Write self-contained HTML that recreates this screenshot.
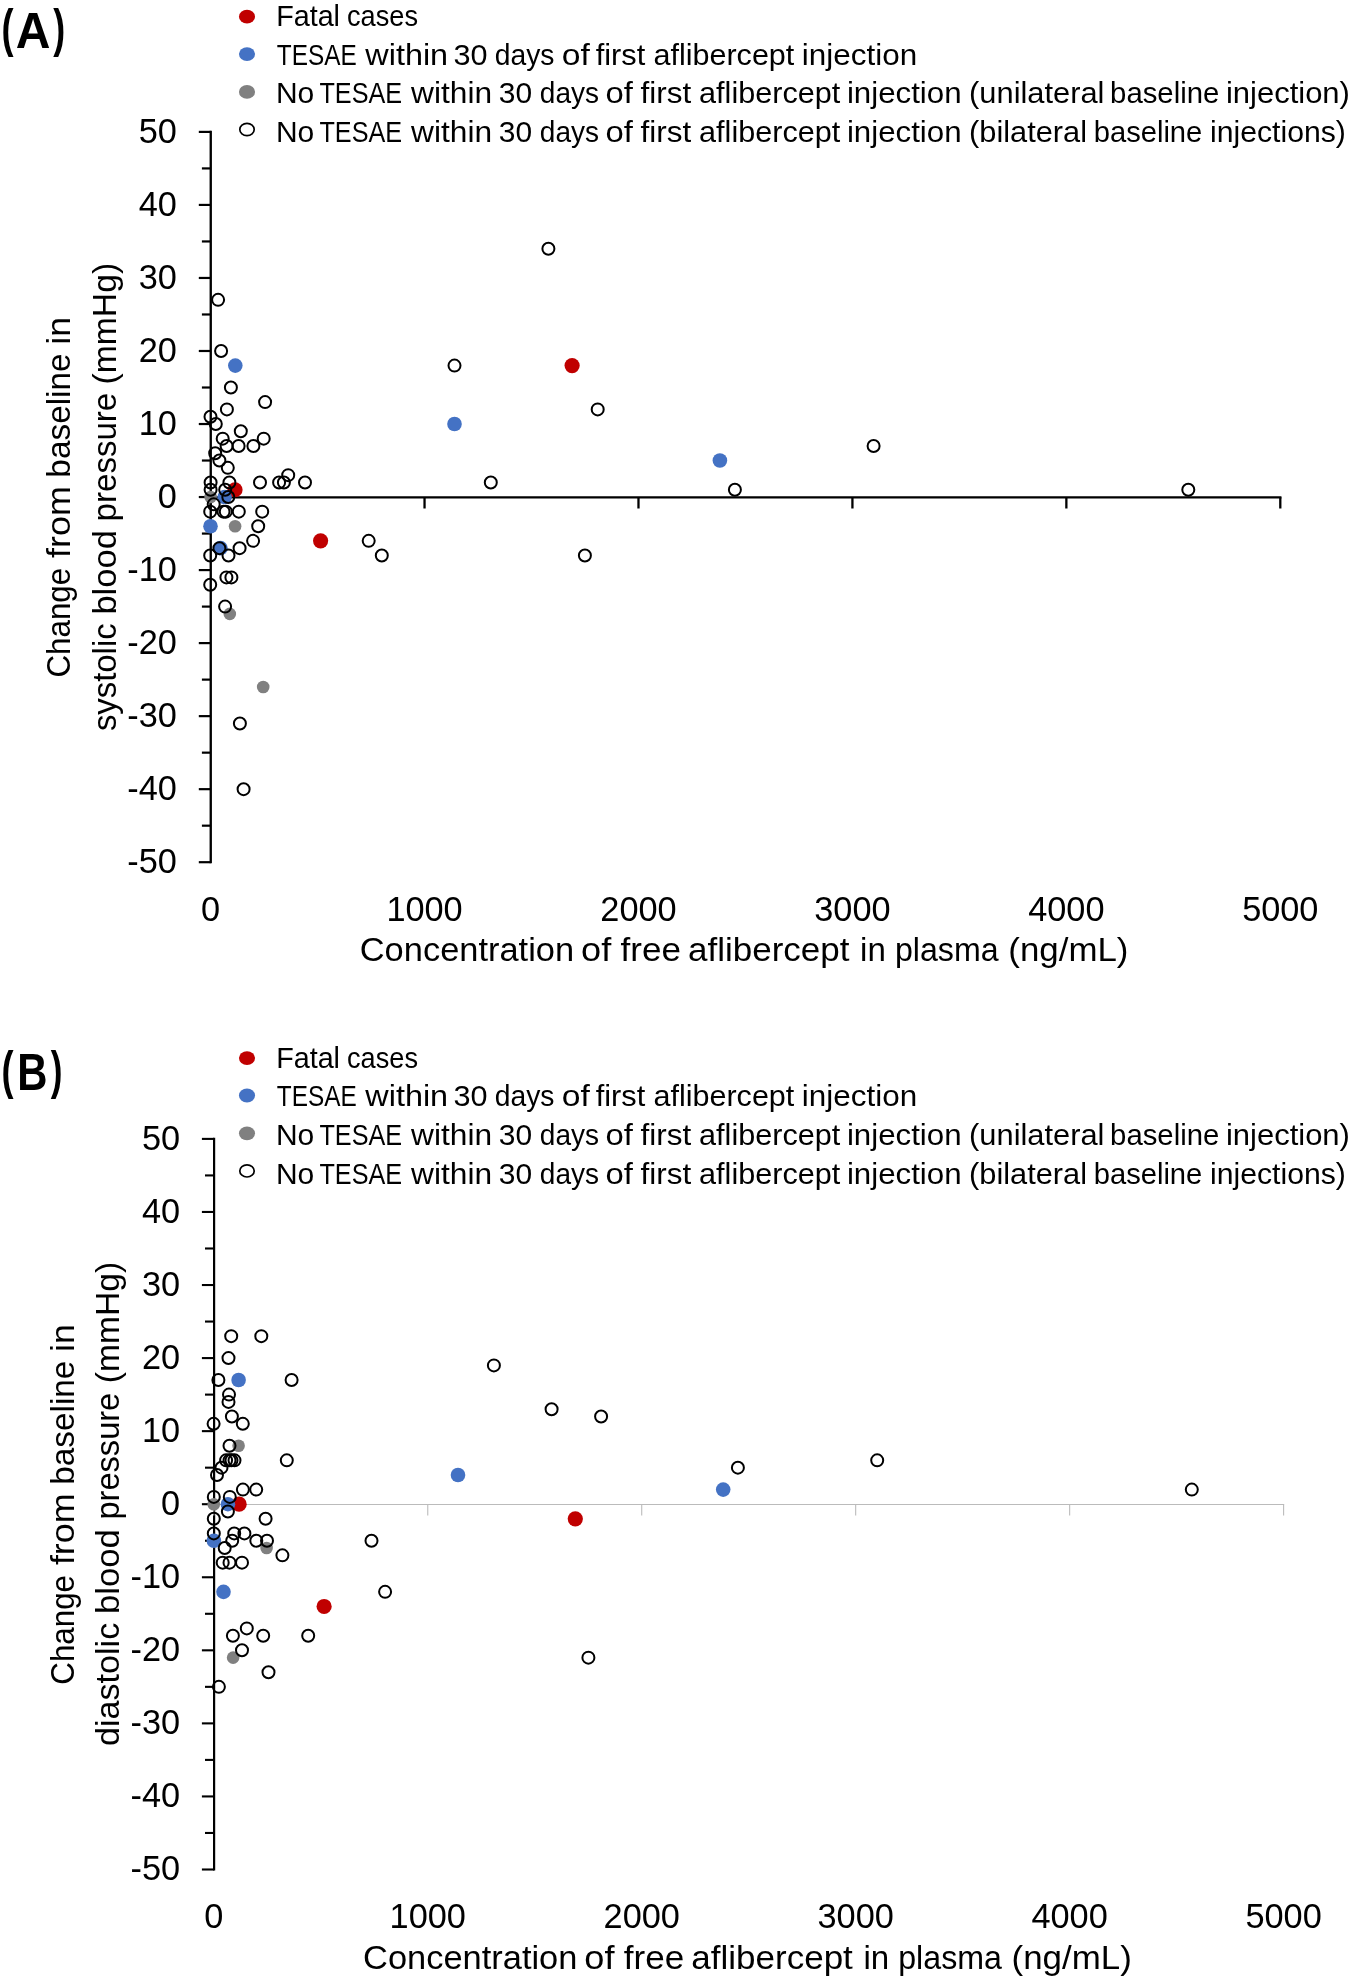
<!DOCTYPE html>
<html><head><meta charset="utf-8"><title>Figure</title>
<style>
html,body{margin:0;padding:0;background:#fff;}
svg{display:block;will-change:transform;}
text{font-family:"Liberation Sans", sans-serif;fill:#000;font-kerning:none;font-variant-ligatures:none;}
</style></head><body>
<svg width="1350" height="1983" viewBox="0 0 1350 1983">
<rect width="1350" height="1983" fill="#fff"/>
<line x1="210.75" y1="130.8" x2="210.75" y2="863.3" stroke="#000" stroke-width="2.35"/>
<line x1="198.8" y1="862.2" x2="210.75" y2="862.2" stroke="#000" stroke-width="2.2"/>
<line x1="201.9" y1="825.68" x2="210.75" y2="825.68" stroke="#000" stroke-width="2.2"/>
<line x1="198.8" y1="789.17" x2="210.75" y2="789.17" stroke="#000" stroke-width="2.2"/>
<line x1="201.9" y1="752.66" x2="210.75" y2="752.66" stroke="#000" stroke-width="2.2"/>
<line x1="198.8" y1="716.14" x2="210.75" y2="716.14" stroke="#000" stroke-width="2.2"/>
<line x1="201.9" y1="679.62" x2="210.75" y2="679.62" stroke="#000" stroke-width="2.2"/>
<line x1="198.8" y1="643.11" x2="210.75" y2="643.11" stroke="#000" stroke-width="2.2"/>
<line x1="201.9" y1="606.6" x2="210.75" y2="606.6" stroke="#000" stroke-width="2.2"/>
<line x1="198.8" y1="570.08" x2="210.75" y2="570.08" stroke="#000" stroke-width="2.2"/>
<line x1="201.9" y1="533.57" x2="210.75" y2="533.57" stroke="#000" stroke-width="2.2"/>
<line x1="198.8" y1="497.05" x2="210.75" y2="497.05" stroke="#000" stroke-width="2.2"/>
<line x1="201.9" y1="460.53" x2="210.75" y2="460.53" stroke="#000" stroke-width="2.2"/>
<line x1="198.8" y1="424.02" x2="210.75" y2="424.02" stroke="#000" stroke-width="2.2"/>
<line x1="201.9" y1="387.51" x2="210.75" y2="387.51" stroke="#000" stroke-width="2.2"/>
<line x1="198.8" y1="350.99" x2="210.75" y2="350.99" stroke="#000" stroke-width="2.2"/>
<line x1="201.9" y1="314.48" x2="210.75" y2="314.48" stroke="#000" stroke-width="2.2"/>
<line x1="198.8" y1="277.96" x2="210.75" y2="277.96" stroke="#000" stroke-width="2.2"/>
<line x1="201.9" y1="241.45" x2="210.75" y2="241.45" stroke="#000" stroke-width="2.2"/>
<line x1="198.8" y1="204.93" x2="210.75" y2="204.93" stroke="#000" stroke-width="2.2"/>
<line x1="201.9" y1="168.42" x2="210.75" y2="168.42" stroke="#000" stroke-width="2.2"/>
<line x1="198.8" y1="131.9" x2="210.75" y2="131.9" stroke="#000" stroke-width="2.2"/>
<text x="176.9" y="872.8" text-anchor="end" font-size="34.3">-50</text>
<text x="176.9" y="799.77" text-anchor="end" font-size="34.3">-40</text>
<text x="176.9" y="726.74" text-anchor="end" font-size="34.3">-30</text>
<text x="176.9" y="653.71" text-anchor="end" font-size="34.3">-20</text>
<text x="176.9" y="580.68" text-anchor="end" font-size="34.3">-10</text>
<text x="176.9" y="507.65" text-anchor="end" font-size="34.3">0</text>
<text x="176.9" y="434.62" text-anchor="end" font-size="34.3">10</text>
<text x="176.9" y="361.59" text-anchor="end" font-size="34.3">20</text>
<text x="176.9" y="288.56" text-anchor="end" font-size="34.3">30</text>
<text x="176.9" y="215.53" text-anchor="end" font-size="34.3">40</text>
<text x="176.9" y="142.5" text-anchor="end" font-size="34.3">50</text>
<line x1="209.6" y1="497.3" x2="1281.45" y2="497.3" stroke="#000" stroke-width="2.3"/>
<line x1="210.6" y1="497.3" x2="210.6" y2="508.5" stroke="#000" stroke-width="2.3"/>
<text x="210.6" y="920.8" text-anchor="middle" font-size="34.3">0</text>
<line x1="424.54" y1="497.3" x2="424.54" y2="508.5" stroke="#000" stroke-width="2.3"/>
<text x="424.54" y="920.8" text-anchor="middle" font-size="34.3">1000</text>
<line x1="638.48" y1="497.3" x2="638.48" y2="508.5" stroke="#000" stroke-width="2.3"/>
<text x="638.48" y="920.8" text-anchor="middle" font-size="34.3">2000</text>
<line x1="852.42" y1="497.3" x2="852.42" y2="508.5" stroke="#000" stroke-width="2.3"/>
<text x="852.42" y="920.8" text-anchor="middle" font-size="34.3">3000</text>
<line x1="1066.36" y1="497.3" x2="1066.36" y2="508.5" stroke="#000" stroke-width="2.3"/>
<text x="1066.36" y="920.8" text-anchor="middle" font-size="34.3">4000</text>
<line x1="1280.3" y1="497.3" x2="1280.3" y2="508.5" stroke="#000" stroke-width="2.3"/>
<text x="1280.3" y="920.8" text-anchor="middle" font-size="34.3">5000</text>
<text x="359.75" y="961.20" font-size="33.5" textLength="214.38" lengthAdjust="spacingAndGlyphs">Concentration</text>
<text x="581.08" y="961.20" font-size="33.5" textLength="30.17" lengthAdjust="spacingAndGlyphs">of</text>
<text x="620.50" y="961.20" font-size="33.5" textLength="60.46" lengthAdjust="spacingAndGlyphs">free</text>
<text x="688.01" y="961.20" font-size="33.5" textLength="161.54" lengthAdjust="spacingAndGlyphs">aflibercept</text>
<text x="860.09" y="961.20" font-size="33.5" textLength="25.76" lengthAdjust="spacingAndGlyphs">in</text>
<text x="894.93" y="961.20" font-size="33.5" textLength="103.67" lengthAdjust="spacingAndGlyphs">plasma</text>
<text x="1008.34" y="961.20" font-size="33.5" textLength="120.12" lengthAdjust="spacingAndGlyphs">(ng/mL)</text>
<text transform="translate(70.20,0) rotate(-90)" x="-677.49" y="0" font-size="33.5" textLength="109.68" lengthAdjust="spacingAndGlyphs">Change</text>
<text transform="translate(70.20,0) rotate(-90)" x="-557.91" y="0" font-size="33.5" textLength="71.77" lengthAdjust="spacingAndGlyphs">from</text>
<text transform="translate(70.20,0) rotate(-90)" x="-477.65" y="0" font-size="33.5" textLength="124.23" lengthAdjust="spacingAndGlyphs">baseline</text>
<text transform="translate(70.20,0) rotate(-90)" x="-344.79" y="0" font-size="33.5" textLength="27.81" lengthAdjust="spacingAndGlyphs">in</text>
<text transform="translate(115.50,0) rotate(-90)" x="-731.12" y="0" font-size="33.5" textLength="107.78" lengthAdjust="spacingAndGlyphs">systolic</text>
<text transform="translate(115.50,0) rotate(-90)" x="-614.62" y="0" font-size="33.5" textLength="84.45" lengthAdjust="spacingAndGlyphs">blood</text>
<text transform="translate(115.50,0) rotate(-90)" x="-521.43" y="0" font-size="33.5" textLength="128.70" lengthAdjust="spacingAndGlyphs">pressure</text>
<text transform="translate(115.50,0) rotate(-90)" x="-384.49" y="0" font-size="33.5" textLength="121.58" lengthAdjust="spacingAndGlyphs">(mmHg)</text>
<ellipse cx="247" cy="16.7" rx="8.05" ry="6.9" fill="#C00000"/>
<text x="276.14" y="26.30" font-size="29.8" textLength="63.88" lengthAdjust="spacingAndGlyphs">Fatal</text>
<text x="347.05" y="26.30" font-size="29.8" textLength="70.93" lengthAdjust="spacingAndGlyphs">cases</text>
<ellipse cx="247" cy="54.1" rx="8.05" ry="6.9" fill="#4472C4"/>
<text x="276.75" y="64.90" font-size="29.8" textLength="79.89" lengthAdjust="spacingAndGlyphs">TESAE</text>
<text x="365.35" y="64.90" font-size="29.8" textLength="82.75" lengthAdjust="spacingAndGlyphs">within</text>
<text x="453.43" y="64.90" font-size="29.8" textLength="34.06" lengthAdjust="spacingAndGlyphs">30</text>
<text x="494.81" y="64.90" font-size="29.8" textLength="59.71" lengthAdjust="spacingAndGlyphs">days</text>
<text x="561.89" y="64.90" font-size="29.8" textLength="28.06" lengthAdjust="spacingAndGlyphs">of</text>
<text x="595.66" y="64.90" font-size="29.8" textLength="49.56" lengthAdjust="spacingAndGlyphs">first</text>
<text x="653.50" y="64.90" font-size="29.8" textLength="140.82" lengthAdjust="spacingAndGlyphs">aflibercept</text>
<text x="801.80" y="64.90" font-size="29.8" textLength="115.34" lengthAdjust="spacingAndGlyphs">injection</text>
<ellipse cx="247" cy="91.9" rx="8.05" ry="6.9" fill="#808080"/>
<text x="275.94" y="103.40" font-size="29.8" textLength="38.32" lengthAdjust="spacingAndGlyphs">No</text>
<text x="319.43" y="103.40" font-size="29.8" textLength="82.65" lengthAdjust="spacingAndGlyphs">TESAE</text>
<text x="411.05" y="103.40" font-size="29.8" textLength="81.01" lengthAdjust="spacingAndGlyphs">within</text>
<text x="498.86" y="103.40" font-size="29.8" textLength="33.31" lengthAdjust="spacingAndGlyphs">30</text>
<text x="539.82" y="103.40" font-size="29.8" textLength="59.19" lengthAdjust="spacingAndGlyphs">days</text>
<text x="605.62" y="103.40" font-size="29.8" textLength="27.33" lengthAdjust="spacingAndGlyphs">of</text>
<text x="640.55" y="103.40" font-size="29.8" textLength="50.68" lengthAdjust="spacingAndGlyphs">first</text>
<text x="699.10" y="103.40" font-size="29.8" textLength="141.12" lengthAdjust="spacingAndGlyphs">aflibercept</text>
<text x="846.91" y="103.40" font-size="29.8" textLength="114.62" lengthAdjust="spacingAndGlyphs">injection</text>
<text x="969.09" y="103.40" font-size="29.8" textLength="135.37" lengthAdjust="spacingAndGlyphs">(unilateral</text>
<text x="1110.11" y="103.40" font-size="29.8" textLength="109.19" lengthAdjust="spacingAndGlyphs">baseline</text>
<text x="1225.93" y="103.40" font-size="29.8" textLength="123.99" lengthAdjust="spacingAndGlyphs">injection)</text>
<ellipse cx="247" cy="129.5" rx="7.2" ry="6.1" fill="none" stroke="#000" stroke-width="1.7"/>
<text x="275.94" y="142.40" font-size="29.8" textLength="38.32" lengthAdjust="spacingAndGlyphs">No</text>
<text x="319.43" y="142.40" font-size="29.8" textLength="82.65" lengthAdjust="spacingAndGlyphs">TESAE</text>
<text x="411.05" y="142.40" font-size="29.8" textLength="81.01" lengthAdjust="spacingAndGlyphs">within</text>
<text x="498.86" y="142.40" font-size="29.8" textLength="33.31" lengthAdjust="spacingAndGlyphs">30</text>
<text x="539.82" y="142.40" font-size="29.8" textLength="59.19" lengthAdjust="spacingAndGlyphs">days</text>
<text x="605.62" y="142.40" font-size="29.8" textLength="27.33" lengthAdjust="spacingAndGlyphs">of</text>
<text x="640.55" y="142.40" font-size="29.8" textLength="50.68" lengthAdjust="spacingAndGlyphs">first</text>
<text x="699.10" y="142.40" font-size="29.8" textLength="141.12" lengthAdjust="spacingAndGlyphs">aflibercept</text>
<text x="846.91" y="142.40" font-size="29.8" textLength="114.62" lengthAdjust="spacingAndGlyphs">injection</text>
<text x="969.09" y="142.40" font-size="29.8" textLength="117.97" lengthAdjust="spacingAndGlyphs">(bilateral</text>
<text x="1093.72" y="142.40" font-size="29.8" textLength="108.57" lengthAdjust="spacingAndGlyphs">baseline</text>
<text x="1209.98" y="142.40" font-size="29.8" textLength="135.89" lengthAdjust="spacingAndGlyphs">injections)</text>
<text transform="translate(1.60,46.20) scale(0.7077,1)" font-size="51.07" font-weight="bold">(</text>
<text transform="translate(15.80,47.80) scale(0.9489,1)" font-size="50.58" font-weight="bold">A</text>
<text transform="translate(53.37,46.20) scale(0.7008,1)" font-size="51.07" font-weight="bold">)</text>
<circle cx="235" cy="489.75" r="7.6" fill="#C00000"/>
<circle cx="572.1" cy="365.6" r="7.6" fill="#C00000"/>
<circle cx="320.6" cy="540.87" r="7.6" fill="#C00000"/>
<circle cx="235.3" cy="365.6" r="7.3" fill="#4472C4"/>
<circle cx="224.6" cy="497.05" r="7.3" fill="#4472C4"/>
<circle cx="210.5" cy="526.26" r="7.3" fill="#4472C4"/>
<circle cx="220.5" cy="548.17" r="7.3" fill="#4472C4"/>
<circle cx="454.5" cy="424.02" r="7.3" fill="#4472C4"/>
<circle cx="719.9" cy="460.53" r="7.3" fill="#4472C4"/>
<circle cx="210.6" cy="497.05" r="6.3" fill="#808080"/>
<circle cx="235.1" cy="526.26" r="6.3" fill="#808080"/>
<circle cx="229.8" cy="613.9" r="6.3" fill="#808080"/>
<circle cx="263.2" cy="686.93" r="6.3" fill="#808080"/>
<circle cx="218.1" cy="299.87" r="6" fill="none" stroke="#000" stroke-width="2"/>
<circle cx="221.1" cy="350.99" r="6" fill="none" stroke="#000" stroke-width="2"/>
<circle cx="230.9" cy="387.51" r="6" fill="none" stroke="#000" stroke-width="2"/>
<circle cx="265.1" cy="402.11" r="6" fill="none" stroke="#000" stroke-width="2"/>
<circle cx="226.9" cy="409.41" r="6" fill="none" stroke="#000" stroke-width="2"/>
<circle cx="210.5" cy="416.72" r="6" fill="none" stroke="#000" stroke-width="2"/>
<circle cx="215.8" cy="424.02" r="6" fill="none" stroke="#000" stroke-width="2"/>
<circle cx="240.8" cy="431.32" r="6" fill="none" stroke="#000" stroke-width="2"/>
<circle cx="222.7" cy="438.63" r="6" fill="none" stroke="#000" stroke-width="2"/>
<circle cx="263.7" cy="438.63" r="6" fill="none" stroke="#000" stroke-width="2"/>
<circle cx="226.6" cy="445.93" r="6" fill="none" stroke="#000" stroke-width="2"/>
<circle cx="238.6" cy="445.93" r="6" fill="none" stroke="#000" stroke-width="2"/>
<circle cx="253.4" cy="445.93" r="6" fill="none" stroke="#000" stroke-width="2"/>
<circle cx="215.2" cy="453.23" r="6" fill="none" stroke="#000" stroke-width="2"/>
<circle cx="219.4" cy="460.53" r="6" fill="none" stroke="#000" stroke-width="2"/>
<circle cx="227.8" cy="467.84" r="6" fill="none" stroke="#000" stroke-width="2"/>
<circle cx="288.2" cy="475.14" r="6" fill="none" stroke="#000" stroke-width="2"/>
<circle cx="210.6" cy="482.44" r="6" fill="none" stroke="#000" stroke-width="2"/>
<circle cx="229.4" cy="482.44" r="6" fill="none" stroke="#000" stroke-width="2"/>
<circle cx="260" cy="482.44" r="6" fill="none" stroke="#000" stroke-width="2"/>
<circle cx="279.1" cy="482.44" r="6" fill="none" stroke="#000" stroke-width="2"/>
<circle cx="283.9" cy="482.44" r="6" fill="none" stroke="#000" stroke-width="2"/>
<circle cx="305" cy="482.44" r="6" fill="none" stroke="#000" stroke-width="2"/>
<circle cx="210.6" cy="489.75" r="6" fill="none" stroke="#000" stroke-width="2"/>
<circle cx="225.2" cy="489.75" r="6" fill="none" stroke="#000" stroke-width="2"/>
<circle cx="228.3" cy="497.05" r="6" fill="none" stroke="#000" stroke-width="2"/>
<circle cx="213.7" cy="504.35" r="6" fill="none" stroke="#000" stroke-width="2"/>
<circle cx="210.2" cy="511.66" r="6" fill="none" stroke="#000" stroke-width="2"/>
<circle cx="223.5" cy="511.66" r="6" fill="none" stroke="#000" stroke-width="2"/>
<circle cx="225.8" cy="511.66" r="6" fill="none" stroke="#000" stroke-width="2"/>
<circle cx="238.8" cy="511.66" r="6" fill="none" stroke="#000" stroke-width="2"/>
<circle cx="262.2" cy="511.66" r="6" fill="none" stroke="#000" stroke-width="2"/>
<circle cx="258.2" cy="526.26" r="6" fill="none" stroke="#000" stroke-width="2"/>
<circle cx="253.1" cy="540.87" r="6" fill="none" stroke="#000" stroke-width="2"/>
<circle cx="219.4" cy="548.17" r="6" fill="none" stroke="#000" stroke-width="2"/>
<circle cx="239.6" cy="548.17" r="6" fill="none" stroke="#000" stroke-width="2"/>
<circle cx="210.2" cy="555.47" r="6" fill="none" stroke="#000" stroke-width="2"/>
<circle cx="228.5" cy="555.47" r="6" fill="none" stroke="#000" stroke-width="2"/>
<circle cx="226.4" cy="577.38" r="6" fill="none" stroke="#000" stroke-width="2"/>
<circle cx="231.4" cy="577.38" r="6" fill="none" stroke="#000" stroke-width="2"/>
<circle cx="210.2" cy="584.69" r="6" fill="none" stroke="#000" stroke-width="2"/>
<circle cx="225.1" cy="606.6" r="6" fill="none" stroke="#000" stroke-width="2"/>
<circle cx="239.9" cy="723.44" r="6" fill="none" stroke="#000" stroke-width="2"/>
<circle cx="243.6" cy="789.17" r="6" fill="none" stroke="#000" stroke-width="2"/>
<circle cx="548.4" cy="248.75" r="6" fill="none" stroke="#000" stroke-width="2"/>
<circle cx="454.5" cy="365.6" r="6" fill="none" stroke="#000" stroke-width="2"/>
<circle cx="597.7" cy="409.41" r="6" fill="none" stroke="#000" stroke-width="2"/>
<circle cx="873.6" cy="445.93" r="6" fill="none" stroke="#000" stroke-width="2"/>
<circle cx="490.8" cy="482.44" r="6" fill="none" stroke="#000" stroke-width="2"/>
<circle cx="734.9" cy="489.75" r="6" fill="none" stroke="#000" stroke-width="2"/>
<circle cx="1188.3" cy="489.75" r="6" fill="none" stroke="#000" stroke-width="2"/>
<circle cx="368.7" cy="540.87" r="6" fill="none" stroke="#000" stroke-width="2"/>
<circle cx="381.8" cy="555.47" r="6" fill="none" stroke="#000" stroke-width="2"/>
<circle cx="584.9" cy="555.47" r="6" fill="none" stroke="#000" stroke-width="2"/>
<line x1="214.1" y1="1137.8" x2="214.1" y2="1870.6" stroke="#000" stroke-width="2.2"/>
<line x1="201.9" y1="1869.5" x2="214.1" y2="1869.5" stroke="#000" stroke-width="2.1"/>
<line x1="205" y1="1832.97" x2="214.1" y2="1832.97" stroke="#000" stroke-width="2.1"/>
<line x1="201.9" y1="1796.44" x2="214.1" y2="1796.44" stroke="#000" stroke-width="2.1"/>
<line x1="205" y1="1759.91" x2="214.1" y2="1759.91" stroke="#000" stroke-width="2.1"/>
<line x1="201.9" y1="1723.38" x2="214.1" y2="1723.38" stroke="#000" stroke-width="2.1"/>
<line x1="205" y1="1686.85" x2="214.1" y2="1686.85" stroke="#000" stroke-width="2.1"/>
<line x1="201.9" y1="1650.32" x2="214.1" y2="1650.32" stroke="#000" stroke-width="2.1"/>
<line x1="205" y1="1613.79" x2="214.1" y2="1613.79" stroke="#000" stroke-width="2.1"/>
<line x1="201.9" y1="1577.26" x2="214.1" y2="1577.26" stroke="#000" stroke-width="2.1"/>
<line x1="205" y1="1540.73" x2="214.1" y2="1540.73" stroke="#000" stroke-width="2.1"/>
<line x1="201.9" y1="1504.2" x2="214.1" y2="1504.2" stroke="#000" stroke-width="2.1"/>
<line x1="205" y1="1467.67" x2="214.1" y2="1467.67" stroke="#000" stroke-width="2.1"/>
<line x1="201.9" y1="1431.14" x2="214.1" y2="1431.14" stroke="#000" stroke-width="2.1"/>
<line x1="205" y1="1394.61" x2="214.1" y2="1394.61" stroke="#000" stroke-width="2.1"/>
<line x1="201.9" y1="1358.08" x2="214.1" y2="1358.08" stroke="#000" stroke-width="2.1"/>
<line x1="205" y1="1321.55" x2="214.1" y2="1321.55" stroke="#000" stroke-width="2.1"/>
<line x1="201.9" y1="1285.02" x2="214.1" y2="1285.02" stroke="#000" stroke-width="2.1"/>
<line x1="205" y1="1248.49" x2="214.1" y2="1248.49" stroke="#000" stroke-width="2.1"/>
<line x1="201.9" y1="1211.96" x2="214.1" y2="1211.96" stroke="#000" stroke-width="2.1"/>
<line x1="205" y1="1175.43" x2="214.1" y2="1175.43" stroke="#000" stroke-width="2.1"/>
<line x1="201.9" y1="1138.9" x2="214.1" y2="1138.9" stroke="#000" stroke-width="2.1"/>
<text x="180.1" y="1880.1" text-anchor="end" font-size="34.3">-50</text>
<text x="180.1" y="1807.04" text-anchor="end" font-size="34.3">-40</text>
<text x="180.1" y="1733.98" text-anchor="end" font-size="34.3">-30</text>
<text x="180.1" y="1660.92" text-anchor="end" font-size="34.3">-20</text>
<text x="180.1" y="1587.86" text-anchor="end" font-size="34.3">-10</text>
<text x="180.1" y="1514.8" text-anchor="end" font-size="34.3">0</text>
<text x="180.1" y="1441.74" text-anchor="end" font-size="34.3">10</text>
<text x="180.1" y="1368.68" text-anchor="end" font-size="34.3">20</text>
<text x="180.1" y="1295.62" text-anchor="end" font-size="34.3">30</text>
<text x="180.1" y="1222.56" text-anchor="end" font-size="34.3">40</text>
<text x="180.1" y="1149.5" text-anchor="end" font-size="34.3">50</text>
<line x1="212.8" y1="1504.5" x2="1284.15" y2="1504.5" stroke="#BBBBBB" stroke-width="1.1"/>
<line x1="213.8" y1="1504.5" x2="213.8" y2="1515.5" stroke="#BBBBBB" stroke-width="1.1"/>
<text x="213.8" y="1928" text-anchor="middle" font-size="34.3">0</text>
<line x1="427.76" y1="1504.5" x2="427.76" y2="1515.5" stroke="#BBBBBB" stroke-width="1.1"/>
<text x="427.76" y="1928" text-anchor="middle" font-size="34.3">1000</text>
<line x1="641.72" y1="1504.5" x2="641.72" y2="1515.5" stroke="#BBBBBB" stroke-width="1.1"/>
<text x="641.72" y="1928" text-anchor="middle" font-size="34.3">2000</text>
<line x1="855.68" y1="1504.5" x2="855.68" y2="1515.5" stroke="#BBBBBB" stroke-width="1.1"/>
<text x="855.68" y="1928" text-anchor="middle" font-size="34.3">3000</text>
<line x1="1069.64" y1="1504.5" x2="1069.64" y2="1515.5" stroke="#BBBBBB" stroke-width="1.1"/>
<text x="1069.64" y="1928" text-anchor="middle" font-size="34.3">4000</text>
<line x1="1283.6" y1="1504.5" x2="1283.6" y2="1515.5" stroke="#BBBBBB" stroke-width="1.1"/>
<text x="1283.6" y="1928" text-anchor="middle" font-size="34.3">5000</text>
<text x="363.05" y="1968.80" font-size="33.5" textLength="214.38" lengthAdjust="spacingAndGlyphs">Concentration</text>
<text x="584.38" y="1968.80" font-size="33.5" textLength="30.17" lengthAdjust="spacingAndGlyphs">of</text>
<text x="623.80" y="1968.80" font-size="33.5" textLength="60.46" lengthAdjust="spacingAndGlyphs">free</text>
<text x="691.31" y="1968.80" font-size="33.5" textLength="161.54" lengthAdjust="spacingAndGlyphs">aflibercept</text>
<text x="863.39" y="1968.80" font-size="33.5" textLength="25.76" lengthAdjust="spacingAndGlyphs">in</text>
<text x="898.23" y="1968.80" font-size="33.5" textLength="103.67" lengthAdjust="spacingAndGlyphs">plasma</text>
<text x="1011.64" y="1968.80" font-size="33.5" textLength="120.12" lengthAdjust="spacingAndGlyphs">(ng/mL)</text>
<text transform="translate(73.50,0) rotate(-90)" x="-1684.69" y="0" font-size="33.5" textLength="109.68" lengthAdjust="spacingAndGlyphs">Change</text>
<text transform="translate(73.50,0) rotate(-90)" x="-1565.11" y="0" font-size="33.5" textLength="71.77" lengthAdjust="spacingAndGlyphs">from</text>
<text transform="translate(73.50,0) rotate(-90)" x="-1484.85" y="0" font-size="33.5" textLength="124.23" lengthAdjust="spacingAndGlyphs">baseline</text>
<text transform="translate(73.50,0) rotate(-90)" x="-1351.99" y="0" font-size="33.5" textLength="27.81" lengthAdjust="spacingAndGlyphs">in</text>
<text transform="translate(118.80,0) rotate(-90)" x="-1746.03" y="0" font-size="33.5" textLength="123.23" lengthAdjust="spacingAndGlyphs">diastolic</text>
<text transform="translate(118.80,0) rotate(-90)" x="-1614.14" y="0" font-size="33.5" textLength="85.08" lengthAdjust="spacingAndGlyphs">blood</text>
<text transform="translate(118.80,0) rotate(-90)" x="-1519.60" y="0" font-size="33.5" textLength="126.85" lengthAdjust="spacingAndGlyphs">pressure</text>
<text transform="translate(118.80,0) rotate(-90)" x="-1383.18" y="0" font-size="33.5" textLength="121.27" lengthAdjust="spacingAndGlyphs">(mmHg)</text>
<ellipse cx="247" cy="1058.1" rx="8.05" ry="6.9" fill="#C00000"/>
<text x="276.14" y="1067.70" font-size="29.8" textLength="63.88" lengthAdjust="spacingAndGlyphs">Fatal</text>
<text x="347.05" y="1067.70" font-size="29.8" textLength="70.93" lengthAdjust="spacingAndGlyphs">cases</text>
<ellipse cx="247" cy="1095.5" rx="8.05" ry="6.9" fill="#4472C4"/>
<text x="276.75" y="1106.30" font-size="29.8" textLength="79.89" lengthAdjust="spacingAndGlyphs">TESAE</text>
<text x="365.35" y="1106.30" font-size="29.8" textLength="82.75" lengthAdjust="spacingAndGlyphs">within</text>
<text x="453.43" y="1106.30" font-size="29.8" textLength="34.06" lengthAdjust="spacingAndGlyphs">30</text>
<text x="494.81" y="1106.30" font-size="29.8" textLength="59.71" lengthAdjust="spacingAndGlyphs">days</text>
<text x="561.89" y="1106.30" font-size="29.8" textLength="28.06" lengthAdjust="spacingAndGlyphs">of</text>
<text x="595.66" y="1106.30" font-size="29.8" textLength="49.56" lengthAdjust="spacingAndGlyphs">first</text>
<text x="653.50" y="1106.30" font-size="29.8" textLength="140.82" lengthAdjust="spacingAndGlyphs">aflibercept</text>
<text x="801.80" y="1106.30" font-size="29.8" textLength="115.34" lengthAdjust="spacingAndGlyphs">injection</text>
<ellipse cx="247" cy="1133.3" rx="8.05" ry="6.9" fill="#808080"/>
<text x="275.94" y="1144.80" font-size="29.8" textLength="38.32" lengthAdjust="spacingAndGlyphs">No</text>
<text x="319.43" y="1144.80" font-size="29.8" textLength="82.65" lengthAdjust="spacingAndGlyphs">TESAE</text>
<text x="411.05" y="1144.80" font-size="29.8" textLength="81.01" lengthAdjust="spacingAndGlyphs">within</text>
<text x="498.86" y="1144.80" font-size="29.8" textLength="33.31" lengthAdjust="spacingAndGlyphs">30</text>
<text x="539.82" y="1144.80" font-size="29.8" textLength="59.19" lengthAdjust="spacingAndGlyphs">days</text>
<text x="605.62" y="1144.80" font-size="29.8" textLength="27.33" lengthAdjust="spacingAndGlyphs">of</text>
<text x="640.55" y="1144.80" font-size="29.8" textLength="50.68" lengthAdjust="spacingAndGlyphs">first</text>
<text x="699.10" y="1144.80" font-size="29.8" textLength="141.12" lengthAdjust="spacingAndGlyphs">aflibercept</text>
<text x="846.91" y="1144.80" font-size="29.8" textLength="114.62" lengthAdjust="spacingAndGlyphs">injection</text>
<text x="969.09" y="1144.80" font-size="29.8" textLength="135.37" lengthAdjust="spacingAndGlyphs">(unilateral</text>
<text x="1110.11" y="1144.80" font-size="29.8" textLength="109.19" lengthAdjust="spacingAndGlyphs">baseline</text>
<text x="1225.93" y="1144.80" font-size="29.8" textLength="123.99" lengthAdjust="spacingAndGlyphs">injection)</text>
<ellipse cx="247" cy="1170.9" rx="7.2" ry="6.1" fill="none" stroke="#000" stroke-width="1.7"/>
<text x="275.94" y="1183.80" font-size="29.8" textLength="38.32" lengthAdjust="spacingAndGlyphs">No</text>
<text x="319.43" y="1183.80" font-size="29.8" textLength="82.65" lengthAdjust="spacingAndGlyphs">TESAE</text>
<text x="411.05" y="1183.80" font-size="29.8" textLength="81.01" lengthAdjust="spacingAndGlyphs">within</text>
<text x="498.86" y="1183.80" font-size="29.8" textLength="33.31" lengthAdjust="spacingAndGlyphs">30</text>
<text x="539.82" y="1183.80" font-size="29.8" textLength="59.19" lengthAdjust="spacingAndGlyphs">days</text>
<text x="605.62" y="1183.80" font-size="29.8" textLength="27.33" lengthAdjust="spacingAndGlyphs">of</text>
<text x="640.55" y="1183.80" font-size="29.8" textLength="50.68" lengthAdjust="spacingAndGlyphs">first</text>
<text x="699.10" y="1183.80" font-size="29.8" textLength="141.12" lengthAdjust="spacingAndGlyphs">aflibercept</text>
<text x="846.91" y="1183.80" font-size="29.8" textLength="114.62" lengthAdjust="spacingAndGlyphs">injection</text>
<text x="969.09" y="1183.80" font-size="29.8" textLength="117.97" lengthAdjust="spacingAndGlyphs">(bilateral</text>
<text x="1093.72" y="1183.80" font-size="29.8" textLength="108.57" lengthAdjust="spacingAndGlyphs">baseline</text>
<text x="1209.98" y="1183.80" font-size="29.8" textLength="135.89" lengthAdjust="spacingAndGlyphs">injections)</text>
<text transform="translate(1.60,1088.26) scale(0.7048,1)" font-size="51.28" font-weight="bold">(</text>
<text transform="translate(17.30,1089.70) scale(0.8196,1)" font-size="51.02" font-weight="bold">B</text>
<text transform="translate(50.77,1088.26) scale(0.6840,1)" font-size="51.28" font-weight="bold">)</text>
<circle cx="239.1" cy="1504.2" r="7.6" fill="#C00000"/>
<circle cx="575.3" cy="1518.81" r="7.6" fill="#C00000"/>
<circle cx="324.1" cy="1606.48" r="7.6" fill="#C00000"/>
<circle cx="238.6" cy="1380" r="7.3" fill="#4472C4"/>
<circle cx="227.9" cy="1504.2" r="7.3" fill="#4472C4"/>
<circle cx="213.9" cy="1540.73" r="7.3" fill="#4472C4"/>
<circle cx="223.5" cy="1591.87" r="7.3" fill="#4472C4"/>
<circle cx="458" cy="1474.98" r="7.3" fill="#4472C4"/>
<circle cx="723.2" cy="1489.59" r="7.3" fill="#4472C4"/>
<circle cx="238.6" cy="1445.75" r="6.3" fill="#808080"/>
<circle cx="213.8" cy="1504.2" r="6.3" fill="#808080"/>
<circle cx="266.6" cy="1548.04" r="6.3" fill="#808080"/>
<circle cx="233.1" cy="1657.63" r="6.3" fill="#808080"/>
<circle cx="231.2" cy="1336.16" r="6" fill="none" stroke="#000" stroke-width="2"/>
<circle cx="261.3" cy="1336.16" r="6" fill="none" stroke="#000" stroke-width="2"/>
<circle cx="228.5" cy="1358.08" r="6" fill="none" stroke="#000" stroke-width="2"/>
<circle cx="218.4" cy="1380" r="6" fill="none" stroke="#000" stroke-width="2"/>
<circle cx="291.6" cy="1380" r="6" fill="none" stroke="#000" stroke-width="2"/>
<circle cx="229" cy="1394.61" r="6" fill="none" stroke="#000" stroke-width="2"/>
<circle cx="228.5" cy="1401.92" r="6" fill="none" stroke="#000" stroke-width="2"/>
<circle cx="231.9" cy="1416.53" r="6" fill="none" stroke="#000" stroke-width="2"/>
<circle cx="213.6" cy="1423.83" r="6" fill="none" stroke="#000" stroke-width="2"/>
<circle cx="242.8" cy="1423.83" r="6" fill="none" stroke="#000" stroke-width="2"/>
<circle cx="229.5" cy="1445.75" r="6" fill="none" stroke="#000" stroke-width="2"/>
<circle cx="226.1" cy="1460.36" r="6" fill="none" stroke="#000" stroke-width="2"/>
<circle cx="229.5" cy="1460.36" r="6" fill="none" stroke="#000" stroke-width="2"/>
<circle cx="231.5" cy="1460.36" r="6" fill="none" stroke="#000" stroke-width="2"/>
<circle cx="234.5" cy="1460.36" r="6" fill="none" stroke="#000" stroke-width="2"/>
<circle cx="286.8" cy="1460.36" r="6" fill="none" stroke="#000" stroke-width="2"/>
<circle cx="221.5" cy="1467.67" r="6" fill="none" stroke="#000" stroke-width="2"/>
<circle cx="217" cy="1474.98" r="6" fill="none" stroke="#000" stroke-width="2"/>
<circle cx="242.9" cy="1489.59" r="6" fill="none" stroke="#000" stroke-width="2"/>
<circle cx="256.2" cy="1489.59" r="6" fill="none" stroke="#000" stroke-width="2"/>
<circle cx="213.8" cy="1496.89" r="6" fill="none" stroke="#000" stroke-width="2"/>
<circle cx="229.8" cy="1496.89" r="6" fill="none" stroke="#000" stroke-width="2"/>
<circle cx="227.9" cy="1511.51" r="6" fill="none" stroke="#000" stroke-width="2"/>
<circle cx="213.8" cy="1518.81" r="6" fill="none" stroke="#000" stroke-width="2"/>
<circle cx="265.6" cy="1518.81" r="6" fill="none" stroke="#000" stroke-width="2"/>
<circle cx="213.8" cy="1533.42" r="6" fill="none" stroke="#000" stroke-width="2"/>
<circle cx="234.2" cy="1533.42" r="6" fill="none" stroke="#000" stroke-width="2"/>
<circle cx="244.4" cy="1533.42" r="6" fill="none" stroke="#000" stroke-width="2"/>
<circle cx="232.2" cy="1540.73" r="6" fill="none" stroke="#000" stroke-width="2"/>
<circle cx="256.3" cy="1540.73" r="6" fill="none" stroke="#000" stroke-width="2"/>
<circle cx="267" cy="1540.73" r="6" fill="none" stroke="#000" stroke-width="2"/>
<circle cx="224.7" cy="1548.04" r="6" fill="none" stroke="#000" stroke-width="2"/>
<circle cx="282.4" cy="1555.34" r="6" fill="none" stroke="#000" stroke-width="2"/>
<circle cx="222.7" cy="1562.65" r="6" fill="none" stroke="#000" stroke-width="2"/>
<circle cx="229.5" cy="1562.65" r="6" fill="none" stroke="#000" stroke-width="2"/>
<circle cx="242" cy="1562.65" r="6" fill="none" stroke="#000" stroke-width="2"/>
<circle cx="246.8" cy="1628.4" r="6" fill="none" stroke="#000" stroke-width="2"/>
<circle cx="232.9" cy="1635.71" r="6" fill="none" stroke="#000" stroke-width="2"/>
<circle cx="263.2" cy="1635.71" r="6" fill="none" stroke="#000" stroke-width="2"/>
<circle cx="308.2" cy="1635.71" r="6" fill="none" stroke="#000" stroke-width="2"/>
<circle cx="242" cy="1650.32" r="6" fill="none" stroke="#000" stroke-width="2"/>
<circle cx="268.5" cy="1672.24" r="6" fill="none" stroke="#000" stroke-width="2"/>
<circle cx="218.9" cy="1686.85" r="6" fill="none" stroke="#000" stroke-width="2"/>
<circle cx="493.9" cy="1365.39" r="6" fill="none" stroke="#000" stroke-width="2"/>
<circle cx="551.6" cy="1409.22" r="6" fill="none" stroke="#000" stroke-width="2"/>
<circle cx="601.1" cy="1416.53" r="6" fill="none" stroke="#000" stroke-width="2"/>
<circle cx="371.5" cy="1540.73" r="6" fill="none" stroke="#000" stroke-width="2"/>
<circle cx="385.1" cy="1591.87" r="6" fill="none" stroke="#000" stroke-width="2"/>
<circle cx="588.4" cy="1657.63" r="6" fill="none" stroke="#000" stroke-width="2"/>
<circle cx="737.9" cy="1467.67" r="6" fill="none" stroke="#000" stroke-width="2"/>
<circle cx="877.2" cy="1460.36" r="6" fill="none" stroke="#000" stroke-width="2"/>
<circle cx="1191.8" cy="1489.59" r="6" fill="none" stroke="#000" stroke-width="2"/>
</svg>
</body></html>
